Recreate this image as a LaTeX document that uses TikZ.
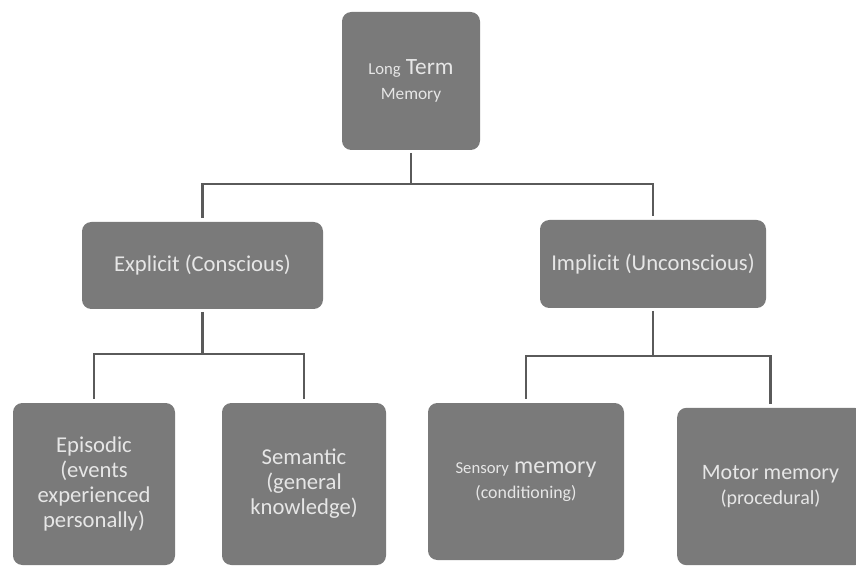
\documentclass[tikz,border=0pt]{standalone}
\usepackage{fontspec}
\setmainfont{Carlito}
\usetikzlibrary{positioning}
\definecolor{boxgray}{HTML}{7A7A7A}
\definecolor{linegray}{HTML}{5A5A5A}
\definecolor{labelgray}{HTML}{E6E6E6}

\begin{document}
\begin{tikzpicture}[
    x=0.75pt, y=-0.75pt,
    mbox/.style={fill=boxgray, rounded corners=7pt, text=labelgray, align=center,
                 font=\fontsize{17}{18.75}\selectfont, inner sep=2pt},
    link/.style={draw=linegray, line width=2.2pt}
]
    \useasboundingbox (0,0) rectangle (856,566);

    \node[mbox, minimum width=103.5pt, minimum height=103.5pt] (ltm) at (411,81)
        {{\fontsize{12.5}{13}\selectfont Long} {\fontsize{17.5}{14}\selectfont Term}\\{\fontsize{13}{13}\selectfont Memory}};
    \node[mbox, minimum width=180.75pt, minimum height=65.25pt] (expl) at (202.5,265.5) {Explicit (Conscious)};
    \node[mbox, minimum width=169.5pt, minimum height=66pt] (impl) at (653,264) {Implicit (Unconscious)};

    \node[mbox, minimum width=121.5pt, minimum height=121.5pt] (epi) at (94,484) {Episodic\\(events\\experienced\\personally)};
    \node[mbox, minimum width=123pt, minimum height=121.5pt] (sem) at (304,484) {Semantic\\(general\\knowledge)};
    \node[mbox, minimum width=147pt, minimum height=117.75pt] (sens) at (526,481.5)
        {{\fontsize{12.5}{16.5}\selectfont Sensory} {\fontsize{18}{16.5}\selectfont memory}\\{\fontsize{13.4}{16.5}\selectfont (conditioning)}};
    \node[mbox, minimum width=140pt, minimum height=118pt] (mot) at (770.5,486.5)
        {{\fontsize{16.5}{16.5}\selectfont Motor memory}\\{\fontsize{15}{16.5}\selectfont (procedural)}};

    \coordinate (topbus) at (411,184);
    \coordinate (explbus) at (202.5,354);
    \coordinate (implbus) at (653,356);

    \draw[link, shorten <=2pt] (ltm) -- (topbus);
    \draw[link, shorten >=3pt] (topbus) -| (expl);
    \draw[link, shorten >=3pt] (topbus) -| (impl);

    \draw[link, shorten <=2pt] (expl) -- (explbus);
    \draw[link, shorten >=3pt] (explbus) -| (epi);
    \draw[link, shorten >=3pt] (explbus) -| (sem);

    \draw[link, shorten <=2pt] (impl) -- (implbus);
    \draw[link, shorten >=3pt] (implbus) -| (sens);
    \draw[link, shorten >=3pt] (implbus) -| (mot);
\end{tikzpicture}
\end{document}
